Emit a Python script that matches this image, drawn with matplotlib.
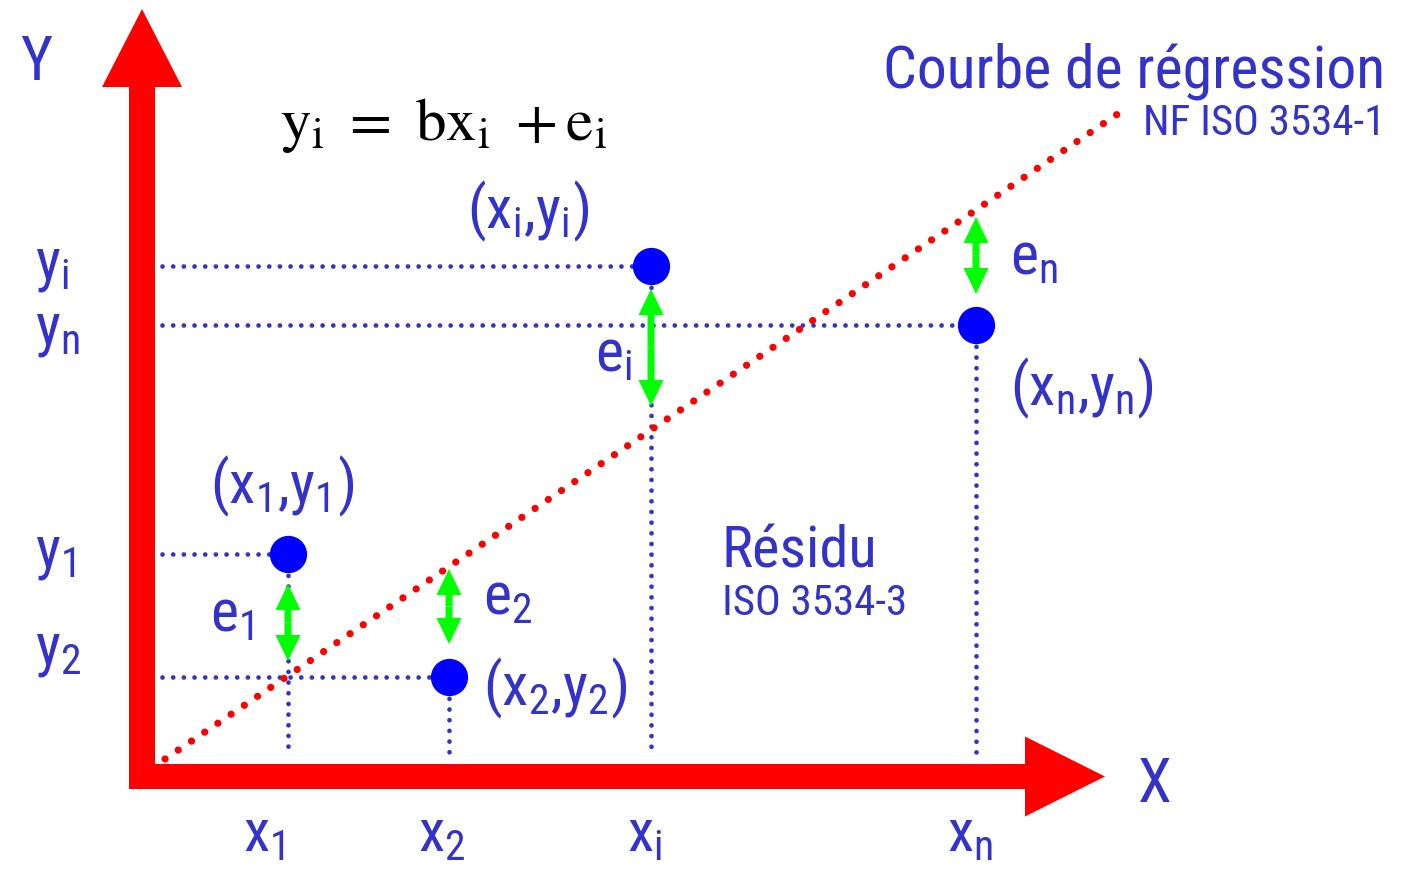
import numpy as np
import matplotlib
matplotlib.use("Agg")
import matplotlib.pyplot as plt
from matplotlib import font_manager
from matplotlib.patches import FancyArrow

# points (x_k, y_k) in picture units (y grows downward)
point_names = ["1", "2", "i", "n"]
point_x = [288, 449, 651, 976]
point_y = [555, 678, 267, 326]

# regression line end points
reg_x = [165, 1125]
reg_y = [760, 110]

# residual arrows (top, bottom) for each point
resid_top = [585, 570, 290, 218]
resid_bot = [662, 645, 407, 295]

BLUE_TXT = "#3333cc"
BLUE_DOT = "#0000ff"
RED = "#ff0000"
GREEN = "#00ff00"

names = {f.name for f in font_manager.fontManager.ttflist}
SANS = "DejaVu Sans"
for cand in ["Liberation Sans Narrow", "Roboto Condensed", "Open Sans Condensed"]:
    if cand in names:
        SANS = cand
        break
stretch = "normal" if SANS != "DejaVu Sans" else "condensed"

fig = plt.figure(figsize=(14.05, 8.7), dpi=100)
ax = fig.add_axes([0, 0, 1, 1])
ax.set_xlim(0, 1405)
ax.set_ylim(870, 0)
ax.axis("off")

# dotted guide lines
dots = dict(color=BLUE_TXT, lw=3.4, linestyle=(0, (0.01, 2.25)),
            dash_capstyle="round", zorder=2)
for xp, yp in zip(point_x, point_y):
    ax.plot([162, xp], [yp, yp], **dots)
    ax.plot([xp, xp], [yp, 757], **dots)

# regression line
ax.plot(reg_x, reg_y, color=RED, lw=5.2, linestyle=(0, (0.01, 2.2)),
        dash_capstyle="round", zorder=3)

# axes arrows
ax.add_patch(FancyArrow(142, 790, 0, -780, width=26, head_width=80, head_length=78,
                        length_includes_head=True, color=RED, lw=0, zorder=4))
ax.add_patch(FancyArrow(129, 777.5, 976, 0, width=25, head_width=80, head_length=80,
                        length_includes_head=True, color=RED, lw=0, zorder=4))

# residual arrows
for xp, t, b in zip(point_x, resid_top, resid_bot):
    mid = (t + b) / 2
    for end in (t, b):
        ax.add_patch(FancyArrow(xp, mid, 0, end - mid, width=7, head_width=25,
                                head_length=26, length_includes_head=True,
                                color=GREEN, lw=0, zorder=5))

# points
ax.scatter(point_x, point_y, s=720, color=BLUE_DOT, zorder=6, linewidths=0)

kw = dict(color=BLUE_TXT, family=SANS, fontstretch=stretch, va="baseline")

ax.text(36, 80, "Y", fontsize=44, ha="center", **kw)
ax.text(1155, 802, "X", fontsize=44, ha="center", **kw)

ylab_base = {"1": 568, "2": 665, "i": 280, "n": 345}
for n in point_names:
    ax.text(35, ylab_base[n], r"$\mathregular{y_{%s}}$" % n, fontsize=43, ha="left", **kw)
xlab_left = {"1": 243, "2": 418, "i": 627, "n": 947}
for n in point_names:
    ax.text(xlab_left[n], 852, r"$\mathregular{x_{%s}}$" % n, fontsize=43, ha="left", **kw)

pair_pos = {"1": (210, 503), "2": (483, 705), "i": (467, 228), "n": (1010, 405)}
for n in point_names:
    px, py = pair_pos[n]
    ax.text(px, py, r"$\mathregular{(x_{%s}{,}y_{%s})}$" % (n, n), fontsize=43,
            ha="left", **kw)

e_pos = {"1": (210, 632), "2": (483, 615), "i": (595, 372), "n": (1010, 275)}
for n in point_names:
    px, py = e_pos[n]
    ax.text(px, py, r"$\mathregular{e_{%s}}$" % n, fontsize=43, ha="left", **kw)

ax.text(722, 568, "Résidu", fontsize=42, ha="left", **kw)
ax.text(722, 615, "ISO 3534-3", fontsize=31, ha="left", **kw)
ax.text(1385, 88, "Courbe de régression", fontsize=43, ha="right", **kw)
ax.text(1385, 135, "NF ISO 3534-1", fontsize=31, ha="right", **kw)

ax.text(280, 140, r"$\mathrm{y}_\mathrm{i}\ =\ \mathrm{bx}_\mathrm{i}\ +\mathrm{e}_\mathrm{i}$",
        fontsize=44, color="black", ha="left", va="baseline", math_fontfamily="stix")

fig.savefig("out.png", dpi=100)
